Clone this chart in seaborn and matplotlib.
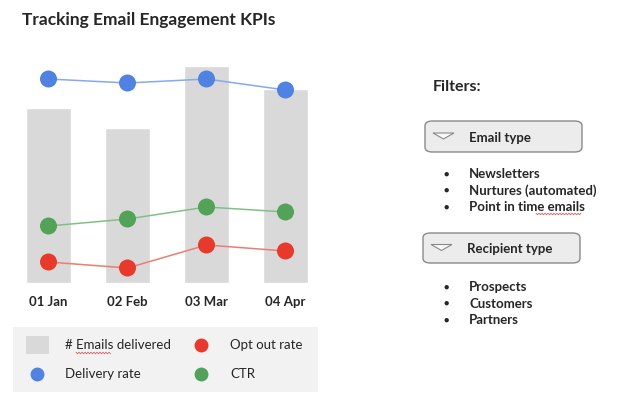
import numpy as np
import pandas as pd
import matplotlib.pyplot as plt
import seaborn as sns
from matplotlib.patches import FancyBboxPatch, Rectangle, Polygon
from matplotlib.lines import Line2D

# data (arbitrary units, shared scale)
fechas = ["01 Jan", "02 Feb", "03 Mar", "04 Apr"]
emails_delivered = [175, 155, 217, 194]
delivery_rate = [204, 200, 204, 193]
ctr = [57, 64, 76, 71]
opt_out_rate = [21, 15, 38, 32]

email_types = ["Newsletters", "Nurtures (automated)", "Point in time emails"]
recipient_types = ["Prospects", "Customers", "Partners"]

AZUL = "#4f82e3"
ROJO = "#e8392a"
VERDE = "#52a257"
GRIS = "#d9d9d9"

sns.set_style("white")
plt.rcParams['font.family'] = ['Lato', 'DejaVu Sans']

W, H = 619, 400
fig = plt.figure(figsize=(W / 100, H / 100), dpi=100)

def px(x, y):
    return x / W, 1 - y / H

# eje principal: centros de barras en 48.5 .. 285.5 px
izq, der, arriba, abajo = 9, 325, 60, 283
ax = fig.add_axes([izq / W, 1 - abajo / H, (der - izq) / W, (abajo - arriba) / H])

df = pd.DataFrame({
    'fecha': fechas,
    'emails': emails_delivered,
    'delivery': delivery_rate,
    'ctr': ctr,
    'optout': opt_out_rate,
})

sns.barplot(data=df, x='fecha', y='emails', color=GRIS, width=0.57,
            saturation=1, ax=ax, zorder=1)
for col, c, lc in [('delivery', AZUL, '#86a9ee'), ('ctr', VERDE, '#82bf86'),
                   ('optout', ROJO, '#ec7d72')]:
    sns.lineplot(data=df, x='fecha', y=col, ax=ax, color=lc, lw=1.1,
                 sort=False, zorder=2)
    sns.scatterplot(data=df, x='fecha', y=col, ax=ax, color=c, s=150,
                    edgecolor='none', zorder=3)

ax.set_xlim(-0.5, 3.5)
ax.set_ylim(0, abajo - arriba)
ax.set_xlabel('')
ax.set_ylabel('')
ax.set_yticks([])
ax.tick_params(axis='x', length=0, pad=9)
for lab in ax.get_xticklabels():
    lab.set_fontweight('bold')
    lab.set_fontsize(9.5)
sns.despine(ax=ax, left=True, bottom=True)

# titulo
fig.text(*px(22, 20), "Tracking Email Engagement KPIs", fontsize=12.5,
         fontweight='bold', va='center', ha='left')

def subrayado(x0, x1, y):
    # subrayado ondulado del corrector ortografico
    xs = np.arange(x0, x1 + 0.1, 1.5)
    ys = y + np.where(np.arange(len(xs)) % 2 == 0, -0.8, 0.8)
    fig.lines.append(Line2D(xs / W, 1 - ys / H, color='#e06060', lw=0.6,
                            transform=fig.transFigure))

# leyenda
fig.patches.append(Rectangle(px(13, 392), 305 / W, 65 / H, transform=fig.transFigure,
                             facecolor='#f2f2f2', edgecolor='none'))
fig.patches.append(Rectangle(px(26, 354), 23 / W, 18 / H, transform=fig.transFigure,
                             facecolor=GRIS, edgecolor='none'))
for (x, y, c) in [(37, 374, AZUL), (201, 345, ROJO), (201, 374, VERDE)]:
    fig.lines.append(Line2D([x / W], [1 - y / H], marker='o', markersize=10,
                            color=c, markeredgewidth=0, transform=fig.transFigure))
for (x, y, t) in [(65, 345, "# Emails delivered"), (65, 374, "Delivery rate"),
                  (230, 345, "Opt out rate"), (230, 374, "CTR")]:
    fig.text(*px(x, y), t, fontsize=9.5, va='center', ha='left')
subrayado(76, 111, 353)

# filtros
fig.text(*px(433, 87), "Filters:", fontsize=11.5, fontweight='bold', va='center')

def caja(x0, y0, x1, y1, titulo):
    fig.patches.append(FancyBboxPatch(px(x0, y1), (x1 - x0) / W, (y1 - y0) / H,
                                      boxstyle="round,pad=0,rounding_size=0.012",
                                      transform=fig.transFigure, facecolor='#ececec',
                                      edgecolor='#8a8a8a', lw=1))
    ym = (y0 + y1) / 2
    tri = [px(x0 + 8, ym - 3.5), px(x0 + 29, ym - 3.5), px(x0 + 18.5, ym + 2.5)]
    fig.patches.append(Polygon(tri, closed=True, transform=fig.transFigure,
                               facecolor='#f8f8f8', edgecolor='#8a8a8a', lw=0.8))
    fig.text(*px(x0 + 44, ym + 1), titulo, fontsize=9.5, fontweight='bold', va='center')

def lista(items, y0):
    for i, t in enumerate(items):
        y = y0 + i * 16.5
        fig.text(*px(446, y), "\u25cf", fontsize=6.5, va='center', ha='center')
        fig.text(*px(469, y), t, fontsize=9.5, fontweight='bold', va='center')

caja(425, 121, 582, 152, "Email type")
lista(email_types, 174)
subrayado(536, 581, 214)
caja(423, 233, 580, 263, "Recipient type")
lista(recipient_types, 287)

fig.savefig("out.png", dpi=100)
